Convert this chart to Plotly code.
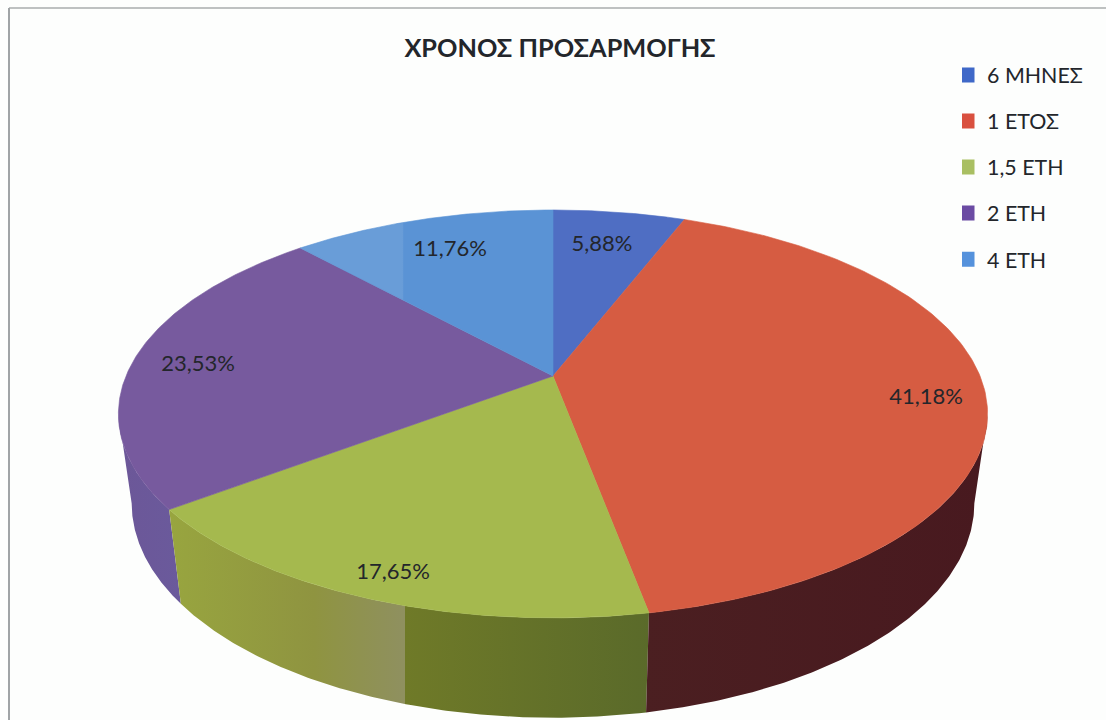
import numpy as np
import plotly.graph_objects as go

# Data
CATEGORIES = ["6 ΜΗΝΕΣ", "1 ΕΤΟΣ", "1,5 ΕΤΗ", "2 ΕΤΗ", "4 ΕΤΗ"]
SHARES = [5.88, 41.18, 17.65, 23.53, 11.76]
TITLE = "ΧΡΟΝΟΣ ΠΡΟΣΑΡΜΟΓΗΣ"

# Styles
TOP_COLORS = ["#4f6ec3", "#d65c42", "#a5b94e", "#775a9e", "#5a93d5"]
LEGEND_COLORS = ["#3f68c8", "#d9503f", "#a9bf62", "#6b4ba3", "#5592dc"]
LABEL_XY = [(602, 245), (926, 398), (393, 573), (198, 365), (450, 250)]

# Projection of the pie disc onto the page (perspective circle)
CX, CY, A, B, K = 553, 376, 427, 196.9, 0.186
BCY, BA, BB = 463.4, 414, 207


def rim(theta, bottom=False):
    u, v = np.sin(theta), np.cos(theta)
    w = 1 + K * v
    if bottom:
        return CX + BA * u / w, BCY - BB * v / w
    return CX + A * u / w, CY - B * v / w


cum = np.concatenate([[0], np.cumsum(SHARES)]) / np.sum(SHARES) * 2 * np.pi
# The outer wall is only visible on the near side of the silhouette tangents
VIS_START = np.arccos(-K)
VIS_END = 2 * np.pi - VIS_START

fig = go.Figure()

SIDE_STYLE = {
    1: dict(colorscale=[[0, "#4b1f21"], [1, "#48191f"]], start=640, stop=990),
    2: dict(colorscale=[[0, "#98a53f"], [0.3, "#8f9440"], [0.49, "#8f9060"], [0.4901, "#6f7a28"], [1, "#5a6a2a"]],
            start=170, stop=650),
    3: dict(colorscale=[[0, "#6c5798"], [1, "#6a5a9c"]], start=119, stop=185),
}
for i in [3, 2, 1]:
    t = np.linspace(max(cum[i], VIS_START), min(cum[i + 1], VIS_END), 160)
    xt, yt = rim(t)
    xb, yb = rim(t[::-1], bottom=True)
    x = np.concatenate([xt, xb])
    y = np.concatenate([yt, yb])
    fig.add_trace(go.Scatter(
        x=x, y=y, mode="lines", fill="toself", showlegend=False, hoverinfo="skip",
        line=dict(width=0), fillgradient=dict(type="horizontal", **SIDE_STYLE[i]),
    ))

for i, cat in enumerate(CATEGORIES):
    t = np.linspace(cum[i], cum[i + 1], 160)
    xt, yt = rim(t)
    x = np.concatenate([[CX], xt, [CX]])
    y = np.concatenate([[CY], yt, [CY]])
    kw = dict(fillcolor=TOP_COLORS[i])
    if i == 4:
        kw = dict(fillgradient=dict(type="horizontal", start=300, stop=553,
                                    colorscale=[[0, "#699dd8"], [0.405, "#699dd8"], [0.41, "#5a93d5"], [1, "#5a93d5"]]))
    fig.add_trace(go.Scatter(
        x=x, y=y, mode="lines", fill="toself", showlegend=False, name=cat,
        line=dict(width=0.6, color=TOP_COLORS[i]), hoverinfo="name", **kw,
    ))

# Legend entries
for i, cat in enumerate(CATEGORIES):
    fig.add_trace(go.Scatter(
        x=[None], y=[None], mode="markers", name=cat, legendgroup=cat,
        marker=dict(symbol="square", size=15, color=LEGEND_COLORS[i]),
    ))

# Data labels
fig.add_trace(go.Scatter(
    x=[p[0] for p in LABEL_XY], y=[p[1] for p in LABEL_XY], mode="text",
    text=[f"{s:.2f}%".replace(".", ",") for s in SHARES],
    textposition="middle center", showlegend=False, hoverinfo="skip",
    textfont=dict(family="Lato", size=22, color="#23262b"),
))

fig.update_layout(
    width=1106, height=720, autosize=False,
    margin=dict(l=0, r=0, t=0, b=0),
    paper_bgcolor="#fdfefd", plot_bgcolor="rgba(0,0,0,0)",
    font=dict(family="Lato", color="#23262b"),
    title=dict(text=f"<b>{TITLE}</b>", x=560 / 1106, xanchor="center", y=1 - 48 / 720, yanchor="middle",
               font=dict(family="Lato", size=25.3, color="#23262b")),
    xaxis=dict(range=[0, 1106], visible=False, fixedrange=True),
    yaxis=dict(range=[720, 0], visible=False, fixedrange=True),
    legend=dict(x=962 / 1106, y=1 - 54.5 / 720, xanchor="left", yanchor="top", bgcolor="rgba(0,0,0,0)",
                font=dict(family="Lato", size=21.4, color="#23262b"), tracegroupgap=15.25,
                itemwidth=30, indentation=-15),
    shapes=[
        dict(type="line", xref="paper", yref="paper", x0=9 / 1106, x1=1, y0=1 - 8 / 720, y1=1 - 8 / 720,
             line=dict(color="#a9adad", width=1.5)),
        dict(type="line", xref="paper", yref="paper", x0=9 / 1106, x1=9 / 1106, y0=1 - 8 / 720, y1=0,
             line=dict(color="#a0a4a6", width=2)),
    ],
)

fig.write_html("out.html", config=dict(displayModeBar=False),
               post_script="document.body.style.margin='0';document.documentElement.style.overflow='hidden';")
